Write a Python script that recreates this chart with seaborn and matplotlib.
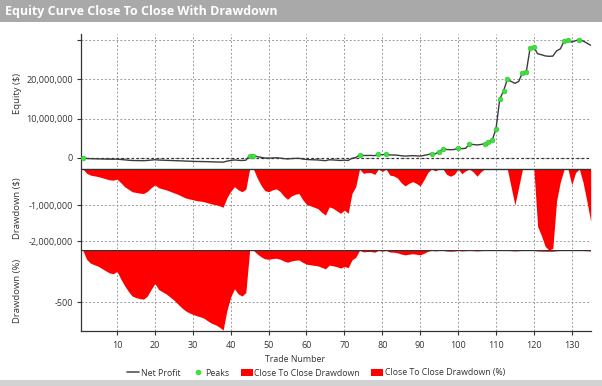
import matplotlib
matplotlib.use("Agg")
import matplotlib.pyplot as plt
import seaborn as sns
from matplotlib.lines import Line2D
from matplotlib.patches import Patch, Rectangle
from matplotlib.ticker import FuncFormatter

# ---------------- data ----------------
trades = list(range(1, 136))

# Net profit / equity, in millions of $
equity_m = [
    0.00, -0.12, -0.17, -0.19, -0.21, -0.24, -0.27, -0.30, -0.31, -0.28,
    -0.38, -0.49, -0.56, -0.63, -0.65, -0.67, -0.68, -0.62, -0.52, -0.44,
    -0.52, -0.55, -0.58, -0.62, -0.66, -0.70, -0.75, -0.80, -0.83, -0.85,
    -0.88, -0.89, -0.91, -0.94, -0.97, -0.99, -1.02, -1.06, -0.80, -0.62,
    -0.49, -0.58, -0.63, -0.56, 0.56, 0.60, 0.35, 0.15, 0.00, -0.03,
    0.02, 0.05, -0.02, -0.15, -0.24, -0.15, -0.10, -0.08, -0.25, -0.38,
    -0.42, -0.46, -0.50, -0.60, -0.68, -0.45, -0.49, -0.56, -0.63, -0.54,
    -0.63, -0.08, 0.11, 0.75, 0.63, 0.65, 0.65, 0.60, 0.90, 0.83,
    0.95, 0.78, 0.76, 0.70, 0.57, 0.48, 0.55, 0.60, 0.55, 0.48,
    0.65, 0.85, 1.10, 1.05, 1.60, 2.30, 2.15, 2.10, 2.15, 2.50,
    2.37, 2.45, 3.50, 3.42, 3.30, 3.42, 3.60, 4.10, 4.50, 7.30,
    14.90, 17.00, 19.90, 19.40, 18.90, 19.40, 21.60, 21.80, 27.80, 28.00,
    26.40, 26.15, 25.85, 25.75, 25.80, 27.12, 27.65, 29.60, 29.80, 29.36,
    29.70, 30.00, 29.62, 29.10, 28.54,
]

# Close to close drawdown, in millions of $
drawdown_m = [
    0.00, -0.12, -0.17, -0.19, -0.21, -0.24, -0.27, -0.30, -0.31, -0.28,
    -0.38, -0.49, -0.56, -0.63, -0.65, -0.67, -0.68, -0.62, -0.52, -0.44,
    -0.52, -0.55, -0.58, -0.62, -0.66, -0.70, -0.75, -0.80, -0.83, -0.85,
    -0.88, -0.89, -0.91, -0.94, -0.97, -0.99, -1.02, -1.06, -0.80, -0.62,
    -0.49, -0.58, -0.63, -0.56, 0.00, 0.00, -0.25, -0.45, -0.60, -0.63,
    -0.58, -0.55, -0.62, -0.75, -0.84, -0.75, -0.70, -0.68, -0.85, -0.98,
    -1.02, -1.06, -1.10, -1.20, -1.28, -1.05, -1.09, -1.16, -1.23, -1.14,
    -1.23, -0.68, -0.49, 0.00, -0.12, -0.10, -0.10, -0.15, 0.00, -0.07,
    0.00, -0.17, -0.19, -0.25, -0.38, -0.47, -0.40, -0.35, -0.40, -0.47,
    -0.30, -0.10, 0.00, -0.05, 0.00, 0.00, -0.15, -0.20, -0.15, 0.00,
    -0.13, -0.05, 0.00, -0.08, -0.20, -0.08, 0.00, 0.00, 0.00, 0.00,
    0.00, 0.00, 0.00, -0.50, -1.00, -0.50, 0.00, 0.00, 0.00, 0.00,
    -1.60, -1.85, -2.15, -2.25, -2.20, -0.88, -0.35, 0.00, 0.00, -0.44,
    -0.10, 0.00, -0.38, -0.90, -1.46,
]

# Close to close drawdown, in %
drawdown_pct = [
    0, -87, -123, -138, -152, -174, -196, -217, -225, -203,
    -275, -340, -395, -440, -455, -465, -470, -440, -377, -319,
    -377, -399, -420, -449, -478, -515, -550, -580, -601, -616,
    -630, -640, -655, -681, -703, -717, -739, -768, -580, -449,
    -370, -420, -440, -406, 0, 0, -34, -61, -81, -85,
    -79, -75, -84, -102, -114, -102, -95, -92, -115, -133,
    -138, -144, -149, -163, -178, -142, -148, -157, -170, -154,
    -167, -92, -66, 0, -14, -11, -11, -17, 0, -7,
    0, -16, -17, -23, -35, -43, -37, -32, -37, -43,
    -28, -9, 0, -4, 0, 0, -6, -8, -6, 0,
    -5, -2, 0, -2, -5, -2, 0, 0, 0, 0,
    0, 0, 0, -2.5, -5, -2.5, 0, 0, 0, 0,
    -5.7, -6.6, -7.6, -8.0, -7.8, -3.1, -1.2, 0, 0, -1.5,
    -0.3, 0, -1.3, -3.0, -4.8,
]

# trades at which a new equity peak was made
peak_trades = [1, 45, 46, 74, 79, 81, 93, 95, 96, 100, 103, 107, 108, 109,
               110, 111, 112, 113, 117, 118, 119, 120, 128, 129, 132]
peak_values_m = [equity_m[t - 1] for t in peak_trades]

x_ticks = list(range(10, 131, 10))
title = "Equity Curve Close To Close With Drawdown"

# ---------------- styling ----------------
sns.set_theme(style="white")
plt.rcParams["font.family"] = ["Open Sans", "DejaVu Sans"]

W, H = 602, 386
fig = plt.figure(figsize=(W / 100, H / 100), dpi=100)


def frac(x0, y0, x1, y1):
    return [x0 / W, 1 - y1 / H, (x1 - x0) / W, (y1 - y0) / H]


# title bar and bottom bar
fig.patches.append(Rectangle((0, 1 - 22 / H), 1, 22 / H, transform=fig.transFigure,
                             facecolor="#a9a9a9", edgecolor="none", zorder=0))
fig.patches.append(Rectangle((0, 0), 1, 6 / H, transform=fig.transFigure,
                             facecolor="#d2d2d2", edgecolor="none", zorder=0))
fig.text(5 / W, 1 - 11.5 / H, title, color="white", fontsize=9, fontweight="bold",
         ha="left", va="center")

ax0 = fig.add_axes(frac(80.7, 34, 590.7, 167))
ax1 = fig.add_axes(frac(80.7, 168, 590.7, 249))
ax2 = fig.add_axes(frac(80.7, 250, 590.7, 331))

grid_kw = dict(color="#9c9c9c", linestyle=(0, (2, 2)), linewidth=0.7)
dark = "#333333"

# equity panel
sns.lineplot(x=trades, y=equity_m, ax=ax0, color="#3c3c3c", linewidth=1.0, legend=False)
sns.scatterplot(x=peak_trades, y=peak_values_m, ax=ax0, color="#3fe03f", s=12,
                edgecolor="#2fbf2f", linewidth=0.4, zorder=5, legend=False)
ax0.axhline(0, color=dark, linestyle=(0, (2, 2)), linewidth=0.9, zorder=1)
ax0.set_ylim(-2.28, 31.4)
ax0.set_yticks([0, 10, 20, 30])
ax0.yaxis.set_major_formatter(FuncFormatter(lambda v, p: "" if v >= 30 else f"{v * 1e6:,.0f}"))

# drawdown $ panel
ax1.fill_between(trades, drawdown_m, 0, color="#ff0000", linewidth=0)
ax1.axhline(0, color=dark, linewidth=1.0, zorder=3)
ax1.set_ylim(-2.22, 0.028)
ax1.set_yticks([-1, -2])
ax1.yaxis.set_major_formatter(FuncFormatter(lambda v, p: f"{v * 1e6:,.0f}"))

# drawdown % panel
ax2.fill_between(trades, drawdown_pct, 0, color="#ff0000", linewidth=0)
ax2.axhline(0, color=dark, linewidth=1.0, zorder=3)
ax2.set_ylim(-777, 4)
ax2.set_yticks([-500])
ax2.yaxis.set_major_formatter(FuncFormatter(lambda v, p: f"{v:,.0f}"))

for ax in (ax0, ax1, ax2):
    ax.set_xlim(0.42, 135.0)
    ax.set_xticks(x_ticks)
    ax.grid(True, **grid_kw)
    ax.set_axisbelow(True)
    ax.patch.set_alpha(0)
    for s in ("top", "right"):
        ax.spines[s].set_visible(False)
    ax.spines["left"].set_color(dark)
    ax.spines["left"].set_linewidth(0.9)
    ax.tick_params(axis="y", left=True, direction="out", length=3, width=0.8,
                   color=dark, labelsize=6.5, labelcolor="#333333", pad=2.5)
    ax.set_xlabel("")

for ax in (ax0, ax1):
    ax.spines["bottom"].set_visible(False)
    ax.tick_params(axis="x", bottom=False, labelbottom=False, length=0)

ax2.spines["bottom"].set_color(dark)
ax2.spines["bottom"].set_linewidth(0.9)
ax2.tick_params(axis="x", bottom=True, direction="out", length=3, width=0.8,
                color=dark, labelsize=6.5, labelcolor="#333333", pad=4)

for ax, lab, yc in ((ax0, "Equity ($)", 0.556), (ax1, "Drawdown ($)", 0.5),
                    (ax2, "Drawdown (%)", 0.5)):
    ax.set_ylabel(lab, fontsize=6.8, color="#333333")
    ax.yaxis.label.set_verticalalignment("center")
    ax.yaxis.set_label_coords((18 - 80.7) / 510, yc)

ax2.set_xlabel("Trade Number", fontsize=6.3, color="#333333")
ax2.xaxis.label.set_verticalalignment("center")
ax2.xaxis.set_label_coords((295 - 80.7) / 510, (331 - 360) / 81)

handles = [
    Line2D([], [], color="#555555", linewidth=1.2),
    Line2D([], [], marker="o", linestyle="none", color="#3fe03f", markersize=3),
    Patch(facecolor="#ff0000", edgecolor="none"),
    Patch(facecolor="#ff0000", edgecolor="none"),
]
labels = ["Net Profit", "Peaks", "Close To Close Drawdown", "Close To Close Drawdown (%)"]
fig.legend(handles, labels, loc="center", bbox_to_anchor=(316 / W, 1 - 373 / H), ncol=4,
           frameon=False, fontsize=6.3, handlelength=1.4, handletextpad=0.15,
           columnspacing=1.3, labelcolor="#333333")

fig.savefig("out.png", dpi=100)
